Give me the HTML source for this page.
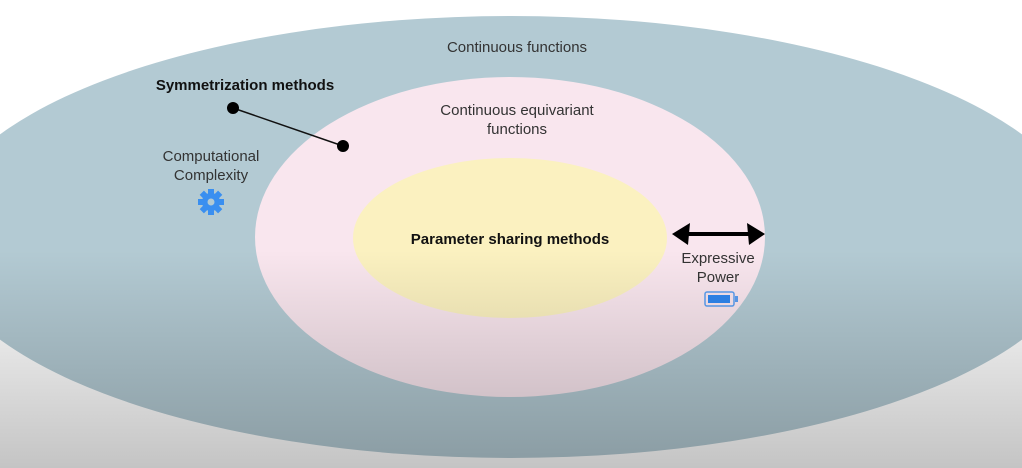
<!DOCTYPE html>
<html><head><style>
html,body{margin:0;padding:0;width:1022px;height:468px;overflow:hidden;background:#fff;font-family:"Liberation Sans",sans-serif;}
.wrap{position:relative;width:1022px;height:468px;}
.t{position:absolute;color:#333;font-size:15px;text-align:center;line-height:19px;}
.ov{position:absolute;left:0;top:0;width:1022px;height:468px;background:linear-gradient(to bottom,rgba(0,0,0,0) 0px,rgba(0,0,0,0) 250px,rgba(0,0,0,0.23) 468px);}
</style></head><body><div class="wrap">
<svg width="1022" height="468" style="position:absolute;left:0;top:0">
<ellipse cx="511" cy="237" rx="577" ry="221" fill="#b3cad3"/>
<ellipse cx="510" cy="237" rx="255" ry="160" fill="#f9e6ee"/>
<ellipse cx="510" cy="238" rx="157" ry="80" fill="#fbf1c0"/>
<line x1="233" y1="108" x2="343" y2="146" stroke="#111" stroke-width="1.5"/>
<circle cx="233" cy="108" r="6" fill="#000"/>
<circle cx="343" cy="146" r="6" fill="#000"/>
<line x1="684" y1="234" x2="752" y2="234" stroke="#000" stroke-width="4"/>
<polygon points="672,234 690,223 688,245" fill="#000"/>
<polygon points="765,234 747,223 749,245" fill="#000"/>
<g transform="translate(211,202)" fill="#3a8ff0">
<circle r="9"/>
<rect x="-3" y="-13" width="6" height="26"/>
<rect x="-3" y="-13" width="6" height="26" transform="rotate(45)"/>
<rect x="-3" y="-13" width="6" height="26" transform="rotate(90)"/>
<rect x="-3" y="-13" width="6" height="26" transform="rotate(135)"/>
<circle r="3.5" fill="#b3cad3"/>
</g>
<rect x="705" y="292" width="29" height="14" rx="2" fill="none" stroke="#5b9ef0" stroke-width="1.5"/>
<rect x="708" y="295" width="22" height="8" fill="#2f86ee"/>
<rect x="735" y="296" width="3" height="6" fill="#5b9ef0"/>
</svg>
<div class="ov"></div>
<div class="t" style="left:417px;top:38px;width:200px">Continuous functions</div>
<div class="t" style="left:130px;top:76px;width:230px;font-weight:bold;color:#111">Symmetrization methods</div>
<div class="t" style="left:417px;top:101px;width:200px">Continuous equivariant<br>functions</div>
<div class="t" style="left:130px;top:147px;width:162px">Computational<br>Complexity</div>
<div class="t" style="left:380px;top:230px;width:260px;font-weight:bold;color:#111">Parameter sharing methods</div>
<div class="t" style="left:658px;top:249px;width:120px">Expressive<br>Power</div>
</div></body></html>
